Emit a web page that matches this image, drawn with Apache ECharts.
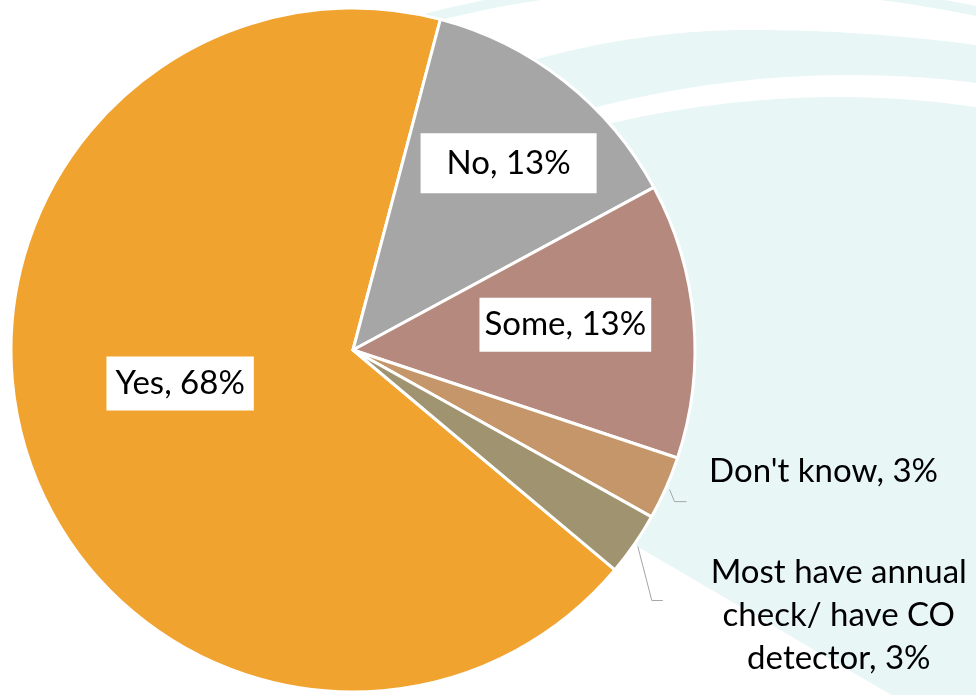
<!DOCTYPE html>
<html>
<head>
<meta charset="utf-8">
<script src="https://cdn.jsdelivr.net/npm/echarts@6/dist/echarts.min.js"></script>
<style>
  html, body { margin: 0; padding: 0; background: #ffffff; }
  #chart { width: 976px; height: 695px; }
</style>
</head>
<body>
<div id="chart"></div>
<script>
// Survey answers and their shares (percent)
const categories = ['Yes', 'No', 'Some', "Don't know", 'Most have annual check/ have CO detector'];
const shares = [68, 13, 13, 3, 3];
const sliceColors = ['#F0A32F', '#A6A6A6', '#B5897D', '#C4966A', '#A0936F'];

const chart = echarts.init(document.getElementById('chart'), null, { renderer: 'canvas' });

const CX = 353, CY = 350, R = 342, START = -40;
const FONT = 'Lato, "Noto Sans", sans-serif';
const TEAL = '#E8F6F6';

// Boxed labels drawn on the slices: box padding and a nudge from the mid-radius spot
const insideLabelStyle = {
  'Yes':  { padding: [8, 9, 8, 9],   nudge: [-7, -19] },
  'No':   { padding: [11, 26, 11, 26], nudge: [48, -50] },
  'Some': { padding: [8, 5, 8, 5],   nudge: [39, -10] }
};
// Labels outside the pie: elbow leader (diagonal, then a short run right) and text offset from its end
const outsideLabelStyle = {
  "Don't know": { elbow: [5, 12], tail: 12, text: [137, -30] },
  'Most have annual check/ have CO detector': { elbow: [14, 54], tail: 11, text: [176, 15] }
};
const WRAP_CHARS = 16;

const total = shares.reduce((a, b) => a + b, 0);
function midAngle(i) {
  let before = 0;
  for (let k = 0; k < i; k++) before += shares[k];
  return (START - (before + shares[i] / 2) / total * 360) * Math.PI / 180;
}

// greedy word wrap for the outside labels
function wrapWords(text, maxChars) {
  const lines = [];
  let line = '';
  text.split(' ').forEach(w => {
    if (line && (line + ' ' + w).length > maxChars) { lines.push(line); line = w; }
    else line = line ? line + ' ' + w : w;
  });
  if (line) lines.push(line);
  return lines.join('\n');
}

const pieData = categories.map((name, i) => {
  const inside = insideLabelStyle[name];
  const item = { name: name, value: shares[i], itemStyle: { color: sliceColors[i] } };
  if (inside) {
    item.label = {
      position: 'inside',
      backgroundColor: '#ffffff',
      padding: inside.padding,
      lineHeight: 38
    };
    item.labelLine = { show: false };
  } else {
    item.label = {
      position: 'outside',
      align: 'center',
      lineHeight: 43,
      formatter: p => wrapWords(p.name + ', ' + p.value + '%', WRAP_CHARS)
    };
    item.labelLine = { show: true, lineStyle: { color: '#A6A6A6', width: 1 } };
  }
  return item;
});

// Soft teal swirl behind the chart
function curve(peakX, peakY, rl, rr) {
  return x => peakY + (x - peakX) * (x - peakX) / (2 * (x < peakX ? rl : rr));
}
const xs = [];
for (let x = 370; x <= 990; x += 8) xs.push(x);
function band(top, bottom) {
  return xs.map(x => [x, top(x)]).concat(xs.slice().reverse().map(x => [x, bottom(x)]));
}
const stripTop = curve(700, -22, 1058, 1360);
const stripBottom = x => stripTop(x) + 10;
const e1 = curve(750, 30, 780, 1700);
const e2 = curve(850, 75, 1000, 1000);
const e3 = curve(840, 97, 1000, 900);
const skyTop = () => -40;

const swirl = [
  { type: 'polygon', silent: true,
    shape: { points: [[425, -5], [990, -5], [990, 700], [900, 700], [640, 548], [CX, CY]] },
    style: { fill: TEAL } },
  { type: 'polygon', silent: true, shape: { points: band(skyTop, stripTop) }, style: { fill: '#ffffff' } },
  { type: 'polygon', silent: true, shape: { points: band(stripBottom, e1) }, style: { fill: '#ffffff' } },
  { type: 'polygon', silent: true, shape: { points: band(e2, e3) }, style: { fill: '#ffffff' } }
];

chart.setOption({
  animation: false,
  backgroundColor: '#ffffff',
  graphic: { elements: swirl },
  series: [{
    type: 'pie',
    center: [CX, CY],
    radius: R,
    startAngle: START,
    clockwise: true,
    avoidLabelOverlap: false,
    emphasis: { disabled: true },
    itemStyle: { borderColor: '#ffffff', borderWidth: 3 },
    label: {
      show: true,
      color: '#000000',
      fontFamily: FONT,
      fontSize: 33,
      formatter: p => p.name + ', ' + p.value + '%'
    },
    labelLayout: function (params) {
      const name = categories[params.dataIndex];
      const inside = insideLabelStyle[name];
      if (inside) {
        return { dx: inside.nudge[0], dy: inside.nudge[1] };
      }
      const out = outsideLabelStyle[name];
      const a = midAngle(params.dataIndex);
      const p0 = [CX + (R + 4) * Math.cos(a), CY - (R + 4) * Math.sin(a)];
      const p1 = [p0[0] + out.elbow[0], p0[1] + out.elbow[1]];
      const p2 = [p1[0] + out.tail, p1[1]];
      return {
        x: p2[0] + out.text[0],
        y: p2[1] + out.text[1],
        align: 'center',
        verticalAlign: 'middle',
        labelLinePoints: [p0, p1, p2]
      };
    },
    data: pieData
  }]
});
</script>
</body>
</html>
